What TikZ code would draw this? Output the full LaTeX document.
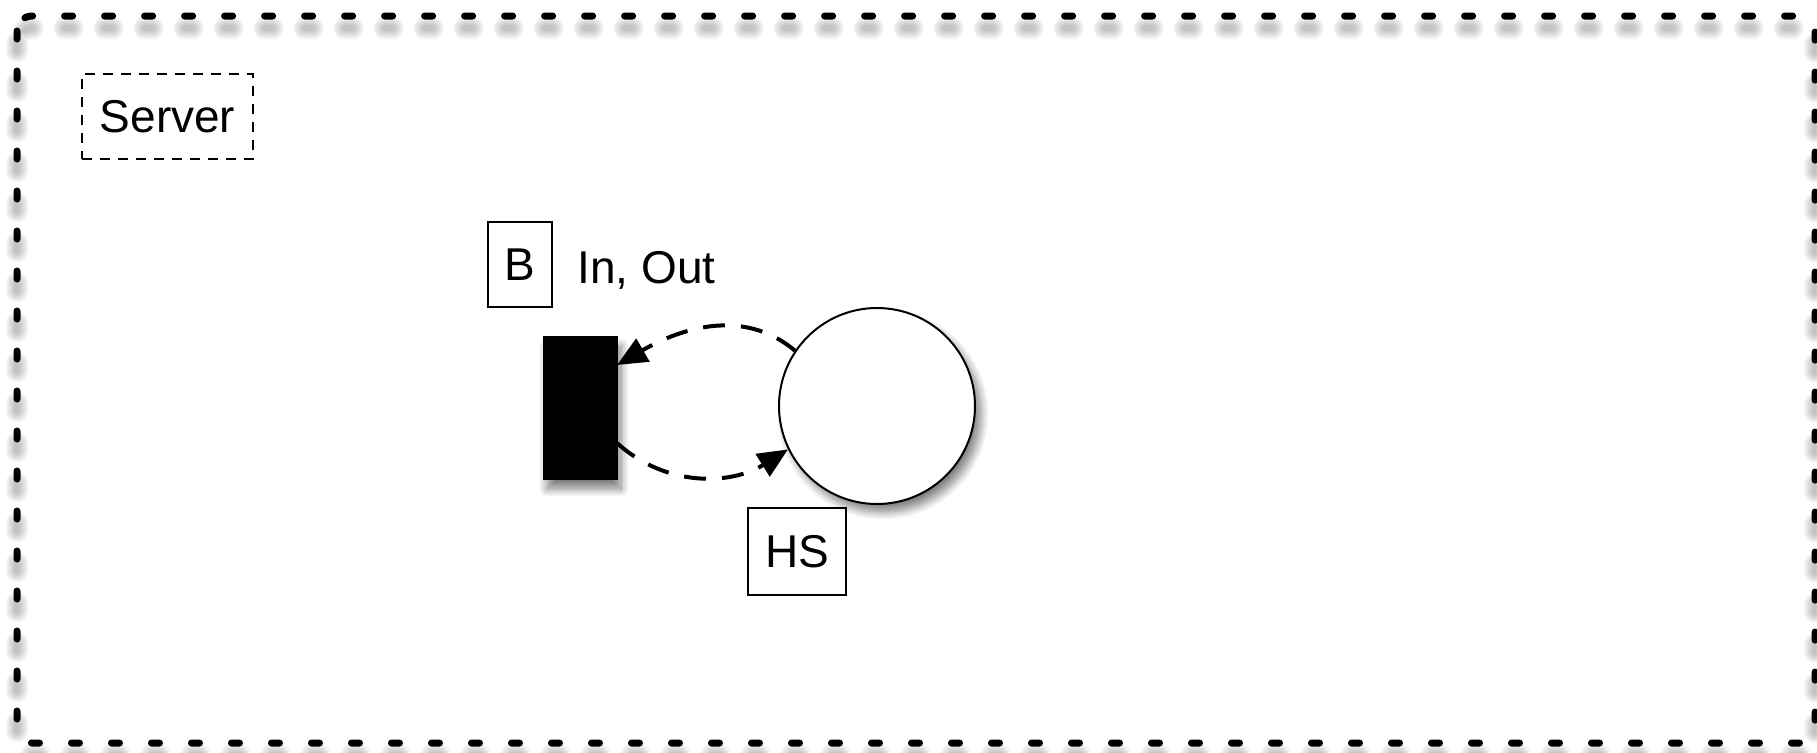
\documentclass[tikz,border=0pt]{standalone}
\usepackage{fontspec}
\setmainfont{Liberation Sans}
\usetikzlibrary{shadows.blur,arrows.meta}
\tikzset{
  frame/.style={line width=3.5pt, line cap=round, dash pattern=on 4pt off 16pt, rounded corners=7.5pt},
  frameshadow/.style={line cap=round, dash pattern=on 4pt off 16pt, rounded corners=7.5pt, draw=black, opacity=0.05},
  labelbox/.style={draw, line width=0.8pt, inner sep=0pt, font=\fontsize{23}{27}\selectfont},
  servbox/.style={draw, line width=0.7pt, dash pattern=on 5pt off 4pt, inner sep=0pt, font=\fontsize{23}{27}\selectfont},
  blk/.style={fill=black, draw=black, minimum width=37pt, minimum height=71.5pt, inner sep=0pt,
    blur shadow={shadow xshift=2pt, shadow yshift=-5pt, shadow blur radius=4pt, shadow blur steps=10, shadow opacity=50}},
  hscirc/.style={circle, draw, fill=white, line width=1pt, minimum size=98pt, inner sep=0pt,
    blur shadow={shadow xshift=3pt, shadow yshift=-4pt, shadow blur radius=4pt, shadow blur steps=10, shadow opacity=50}},
  flow/.style={line width=2pt, dash pattern=on 11pt off 8pt, -{Triangle[length=15pt,width=13pt]}},
}
\begin{document}
\begin{tikzpicture}[x=0.5pt,y=-0.5pt]
\useasboundingbox (0,0) rectangle (1817,752);
% outer frame shadow
\foreach \s in {3,5,7,9,11}{
  \draw[frameshadow, line width=\s pt] (17,28) rectangle (1815,755);
}
\draw[frame] (17,16) rectangle (1815,743);
\node[servbox, minimum width=85.5pt, minimum height=42.5pt] (server) at (167.5,116.5) {Server};
\node[labelbox, minimum width=32pt, minimum height=42.5pt] (b) at (520,264.5) {B};
\node[anchor=base west, inner sep=0pt, font=\fontsize{23}{27}\selectfont] (inout) at (577,283) {In, Out};
\node[blk] (rect) at (580,407.5) {};
\node[hscirc] (circ) at (877,406) {};
\node[labelbox, minimum width=49pt, minimum height=43.5pt] (hs) at (797,551.5) {HS};
\coordinate (rin) at (617,365);
\coordinate (rout) at (617,443);
\draw[flow] (circ.146) to[out=140, in=30] (rin);
\draw[flow] (rout) to[out=-42, in=212] (circ.206);
\end{tikzpicture}
\end{document}
